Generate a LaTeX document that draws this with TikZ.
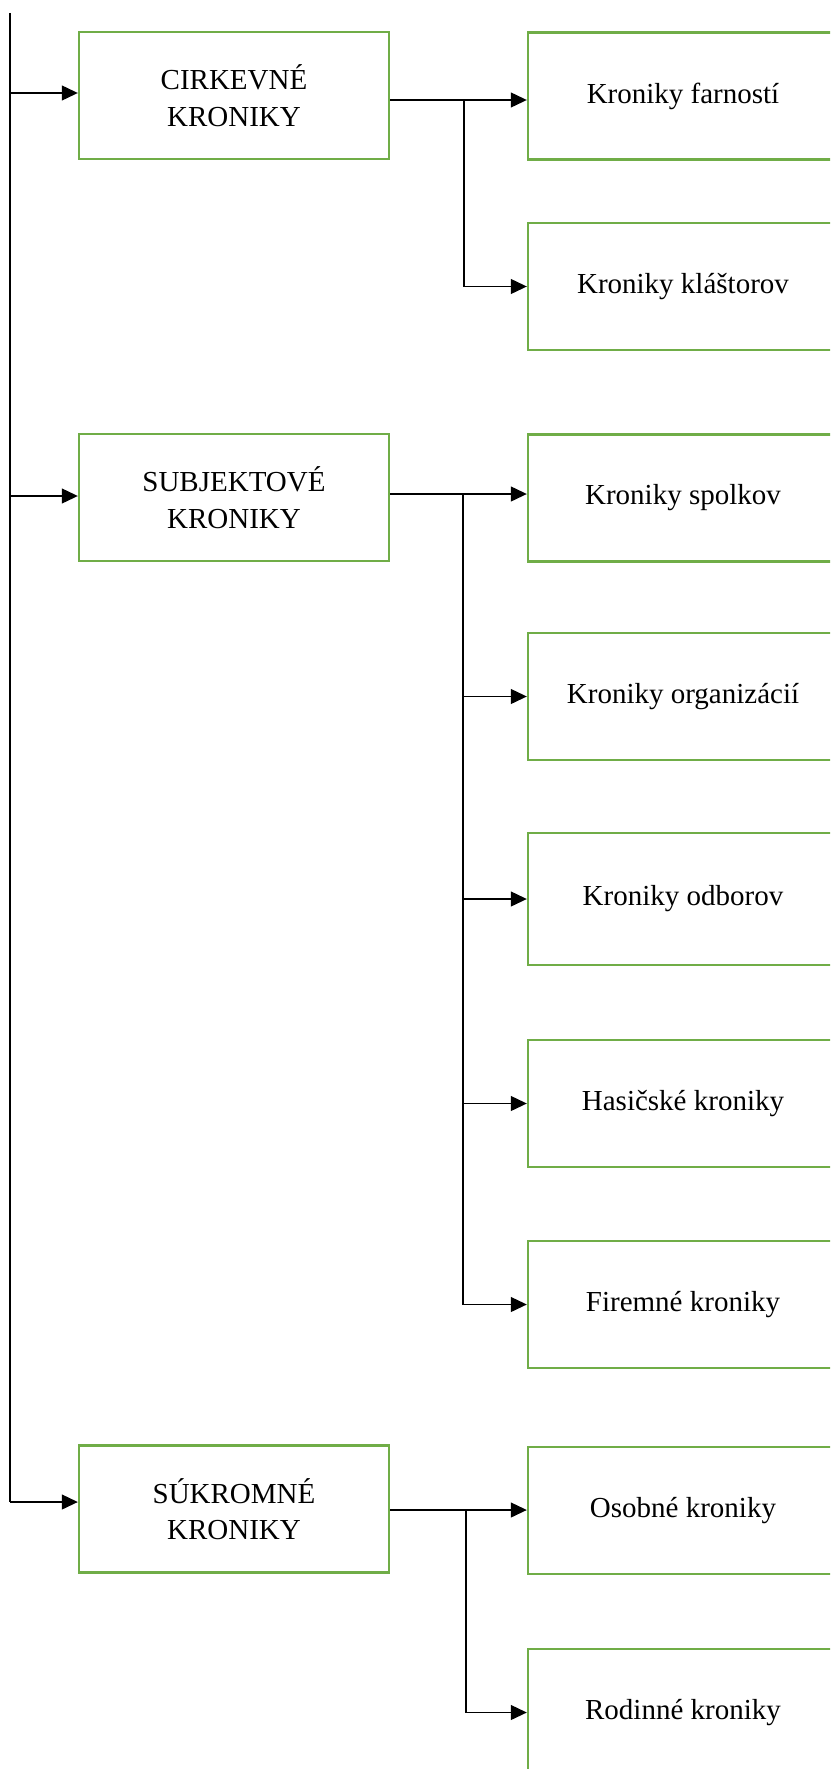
\documentclass[tikz,border=0pt]{standalone}
\usepackage{fontspec}
\setmainfont{Liberation Serif}
\usepackage{xcolor}
\usetikzlibrary{arrows.meta}
\definecolor{boxgreen}{RGB}{112,173,71}
\tikzset{
    tnode/.style = {align=center, inner sep=0pt, text centered, font=\fontsize{29}{36.5}\selectfont},
    cat_node/.style = {tnode, rectangle, draw=boxgreen, line width=2.4pt, minimum width=310pt, minimum height=127pt},
    kind_node/.style = {cat_node},
    conn/.style = {draw=black, line width=1.2pt},
    arr/.style = {conn, -{Triangle[length=16pt, width=15pt]}}
}

\begin{document}
\begin{tikzpicture}
            [x=1pt, y=-1pt]
            \useasboundingbox (0,0) rectangle (830,1769);
            \clip (0,0) rectangle (830,1769);

            % main kinds
            \node [cat_node] (cirk) at (234,95.5) {CIRKEVNÉ\\KRONIKY};
            \node [cat_node] (subj) at (234,497.5) {SUBJEKTOVÉ\\KRONIKY};
            \node [cat_node] (sukr) at (234,1509) {SÚKROMNÉ\\KRONIKY};

            % sub kinds
            \node [kind_node] (farn) at (683,96) {Kroniky farností};
            \node [kind_node] (klas) at (683,286.5) {Kroniky kláštorov};
            \node [kind_node] (spol) at (683,498) {Kroniky spolkov};
            \node [kind_node] (org)  at (683,696.5) {Kroniky organizácií};
            \node [kind_node, minimum height=132pt] (odb) at (683,899) {Kroniky odborov};
            \node [kind_node] (has)  at (683,1103.5) {Hasičské kroniky};
            \node [kind_node] (fir)  at (683,1304.5) {Firemné kroniky};
            \node [kind_node] (osob) at (683,1510.5) {Osobné kroniky};
            \node [kind_node] (rod)  at (683,1712.5) {Rodinné kroniky};

            % trunk
            \coordinate (ttop) at (10,13);
            \coordinate (t1) at (10,93);
            \coordinate (t2) at (10,496);
            \coordinate (t3) at (10,1502);
            \draw [conn] (ttop) -- (t3);
            \draw [arr] (t1) -- (t1 -| cirk.west);
            \draw [arr] (t2) -- (t2 -| subj.west);
            \draw [arr] (t3) -- (t3 -| sukr.west);

            % branches
            \coordinate (b1) at (464,100);
            \draw [conn] (cirk.east |- b1) -- (b1);
            \draw [arr] (b1) -- (b1 -| farn.west);
            \draw [arr] (b1) |- (klas.west);

            \coordinate (b2) at (463,494);
            \draw [conn] (subj.east |- b2) -- (b2);
            \draw [arr] (b2) -- (b2 -| spol.west);
            \foreach \k in {org, odb, has, fir}
                \draw [arr] (b2) |- (\k.west);

            \coordinate (b3) at (466,1510);
            \draw [conn] (sukr.east |- b3) -- (b3);
            \draw [arr] (b3) -- (b3 -| osob.west);
            \draw [arr] (b3) |- (rod.west);
        \end{tikzpicture}
\end{document}
